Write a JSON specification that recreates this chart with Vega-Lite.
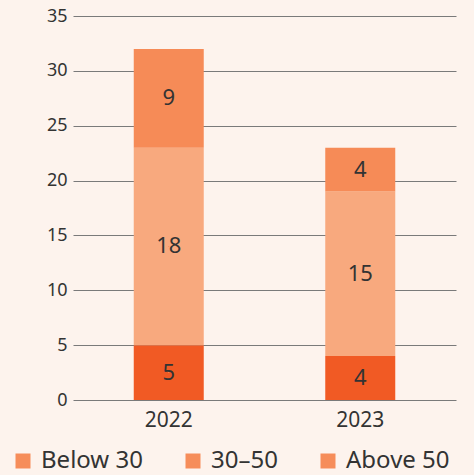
{
  "$schema": "https://vega.github.io/schema/vega-lite/v6.json",
  "autosize": "none",
  "width": 383,
  "height": 384,
  "padding": {"left": 73, "top": 16, "right": 18, "bottom": 75},
  "background": "#FDF3ED",
  "config": {
    "view": {"stroke": null},
    "font": "Noto Sans",
    "axis": {"labelFont": "Noto Sans", "labelColor": "#333333"}
  },
  "data": {
    "values": [
      {"year": "2022", "group": "Below 30", "value": 5, "o": 1},
      {"year": "2022", "group": "30–50", "value": 18, "o": 2},
      {"year": "2022", "group": "Above 50", "value": 9, "o": 3},
      {"year": "2023", "group": "Below 30", "value": 4, "o": 1},
      {"year": "2023", "group": "30–50", "value": 15, "o": 2},
      {"year": "2023", "group": "Above 50", "value": 4, "o": 3}
    ]
  },
  "transform": [
    {"stack": "value", "groupby": ["year"], "sort": [{"field": "o"}], "as": ["y0", "y1"]},
    {"calculate": "(datum.y0 + datum.y1) / 2", "as": "mid"},
    {"calculate": "datum.group", "as": "legendGroup"}
  ],
  "encoding": {
    "x": {
      "field": "year",
      "type": "nominal",
      "scale": {"paddingInner": 0, "paddingOuter": 0},
      "axis": {
        "title": null,
        "labelAngle": 0,
        "labelFontSize": 21,
        "labelPadding": 9,
        "ticks": false,
        "domain": false
      }
    }
  },
  "resolve": {"scale": {"color": "independent"}, "legend": {"color": "independent"}},
  "layer": [
    {
      "mark": {"type": "bar", "width": 70},
      "encoding": {
        "y": {
          "field": "y0",
          "type": "quantitative",
          "scale": {"domain": [0, 35]},
          "axis": {
            "title": null,
            "values": [0, 5, 10, 15, 20, 25, 30, 35],
            "labelFontSize": 18,
            "labelPadding": 6,
            "ticks": false,
            "domain": false,
            "gridColor": "#7a7a7a",
            "gridWidth": 1,
            "gridOpacity": 1
          }
        },
        "y2": {"field": "y1"},
        "color": {
          "field": "group",
          "type": "nominal",
          "scale": {
            "domain": ["Below 30", "30–50", "Above 50"],
            "range": ["#F15A24", "#F8A97E", "#F68B57"]
          },
          "legend": null
        }
      }
    },
    {
      "mark": {"type": "square", "size": 1, "opacity": 1},
      "encoding": {
        "y": {"field": "mid", "type": "quantitative"},
        "color": {
          "field": "legendGroup",
          "type": "nominal",
          "scale": {
            "domain": ["Below 30", "30–50", "Above 50"],
            "range": ["#F68D5A", "#F68D5A", "#F68D5A"]
          },
          "legend": {
            "title": null,
            "orient": "none",
            "direction": "horizontal",
            "legendX": -62,
            "legendY": 433,
            "symbolType": "square",
            "symbolSize": 225,
            "symbolStrokeWidth": 0,
            "symbolOpacity": 1,
            "labelFontSize": 24,
            "labelColor": "#333333",
            "labelOffset": 6,
            "columnPadding": 38
          }
        }
      }
    },
    {
      "mark": {"type": "text", "fontSize": 22, "color": "#333333"},
      "encoding": {
        "y": {"field": "mid", "type": "quantitative"},
        "text": {"field": "value", "type": "quantitative"}
      }
    }
  ]
}
